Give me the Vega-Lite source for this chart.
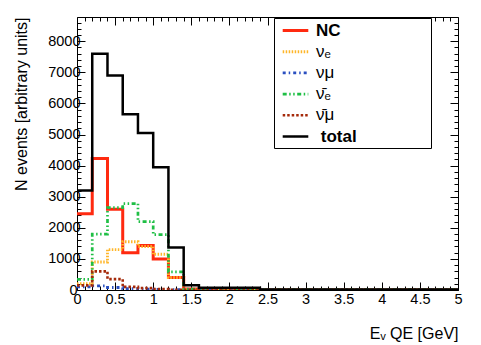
{
  "$schema": "https://vega.github.io/schema/vega-lite/v6.json",
  "width": 381,
  "height": 273,
  "autosize": "none",
  "padding": {"left": 77, "top": 17, "right": 23, "bottom": 55},
  "background": "white",
  "config": {
    "font": "Liberation Sans",
    "view": {"stroke": null},
    "axis": {"domainColor": "black", "tickColor": "black", "labelColor": "black", "titleColor": "black", "grid": false, "labelFont": "Liberation Sans", "titleFont": "Liberation Sans", "labelFontSize": 14.5, "titleFontSize": 16, "titleFontWeight": "normal", "domainWidth": 1, "tickWidth": 1}
  },
  "datasets": {
    "h": [
      {"s": "NC", "x": 0.0, "n": 2450}, {"s": "NC", "x": 0.2, "n": 4230}, {"s": "NC", "x": 0.4, "n": 2600}, {"s": "NC", "x": 0.6, "n": 1200}, {"s": "NC", "x": 0.8, "n": 1430}, {"s": "NC", "x": 1.0, "n": 1000}, {"s": "NC", "x": 1.2, "n": 400}, {"s": "NC", "x": 1.4, "n": 30}, {"s": "NC", "x": 1.6, "n": 15}, {"s": "NC", "x": 1.8, "n": 10}, {"s": "NC", "x": 2.0, "n": 8}, {"s": "NC", "x": 2.2, "n": 5}, {"s": "NC", "x": 2.4, "n": 3}, {"s": "NC", "x": 5.0, "n": 3},
      {"s": "nue", "x": 0.0, "n": 200}, {"s": "nue", "x": 0.2, "n": 900}, {"s": "nue", "x": 0.4, "n": 1300}, {"s": "nue", "x": 0.6, "n": 1550}, {"s": "nue", "x": 0.8, "n": 1400}, {"s": "nue", "x": 1.0, "n": 1150}, {"s": "nue", "x": 1.2, "n": 400}, {"s": "nue", "x": 1.4, "n": 20}, {"s": "nue", "x": 1.6, "n": 10}, {"s": "nue", "x": 1.8, "n": 6}, {"s": "nue", "x": 2.0, "n": 4}, {"s": "nue", "x": 2.2, "n": 3}, {"s": "nue", "x": 2.4, "n": 2}, {"s": "nue", "x": 5.0, "n": 2},
      {"s": "numu", "x": 0.0, "n": 100}, {"s": "numu", "x": 0.2, "n": 130}, {"s": "numu", "x": 0.4, "n": 80}, {"s": "numu", "x": 0.6, "n": 40}, {"s": "numu", "x": 0.8, "n": 30}, {"s": "numu", "x": 1.0, "n": 20}, {"s": "numu", "x": 1.2, "n": 10}, {"s": "numu", "x": 1.4, "n": 5}, {"s": "numu", "x": 1.6, "n": 3}, {"s": "numu", "x": 2.4, "n": 1}, {"s": "numu", "x": 5.0, "n": 1},
      {"s": "nuebar", "x": 0.0, "n": 340}, {"s": "nuebar", "x": 0.2, "n": 1800}, {"s": "nuebar", "x": 0.4, "n": 2650}, {"s": "nuebar", "x": 0.6, "n": 2780}, {"s": "nuebar", "x": 0.8, "n": 2200}, {"s": "nuebar", "x": 1.0, "n": 1780}, {"s": "nuebar", "x": 1.2, "n": 580}, {"s": "nuebar", "x": 1.4, "n": 30}, {"s": "nuebar", "x": 1.6, "n": 12}, {"s": "nuebar", "x": 1.8, "n": 8}, {"s": "nuebar", "x": 2.0, "n": 5}, {"s": "nuebar", "x": 2.4, "n": 2}, {"s": "nuebar", "x": 5.0, "n": 2},
      {"s": "numubar", "x": 0.0, "n": 150}, {"s": "numubar", "x": 0.2, "n": 600}, {"s": "numubar", "x": 0.4, "n": 350}, {"s": "numubar", "x": 0.6, "n": 100}, {"s": "numubar", "x": 0.8, "n": 60}, {"s": "numubar", "x": 1.0, "n": 30}, {"s": "numubar", "x": 1.2, "n": 10}, {"s": "numubar", "x": 1.4, "n": 5}, {"s": "numubar", "x": 1.6, "n": 3}, {"s": "numubar", "x": 2.4, "n": 1}, {"s": "numubar", "x": 5.0, "n": 1},
      {"s": "total", "x": 0.0, "n": 3200}, {"s": "total", "x": 0.2, "n": 7600}, {"s": "total", "x": 0.4, "n": 6900}, {"s": "total", "x": 0.6, "n": 5650}, {"s": "total", "x": 0.8, "n": 5050}, {"s": "total", "x": 1.0, "n": 3950}, {"s": "total", "x": 1.2, "n": 1370}, {"s": "total", "x": 1.4, "n": 150}, {"s": "total", "x": 1.6, "n": 70}, {"s": "total", "x": 2.4, "n": 20}, {"s": "total", "x": 5.0, "n": 20}
    ]
  },
  "data": {"name": "h"},
  "resolve": {"axis": {"x": "independent", "y": "independent"}},
  "layer": [
    {
      "mark": {"type": "line", "interpolate": "step-after", "clip": true},
      "encoding": {
        "x": {"field": "x", "type": "quantitative", "scale": {"domain": [0, 5], "nice": false, "zero": false},
          "axis": {"orient": "bottom", "title": "Eᵥ QE [GeV]", "titleAnchor": "end", "titlePadding": 16,
            "values": [0,0.1,0.2,0.3,0.4,0.5,0.6,0.7,0.8,0.9,1,1.1,1.2,1.3,1.4,1.5,1.6,1.7,1.8,1.9,2,2.1,2.2,2.3,2.4,2.5,2.6,2.7,2.8,2.9,3,3.1,3.2,3.3,3.4,3.5,3.6,3.7,3.8,3.9,4,4.1,4.2,4.3,4.4,4.5,4.6,4.7,4.8,4.9,5],
            "labelExpr": "abs(datum.value*2 - round(datum.value*2)) < 0.001 ? format(datum.value, '~g') : ''",
            "tickSize": {"condition": {"test": "abs(datum.value*2 - round(datum.value*2)) < 0.001", "value": -8}, "value": -4},
            "labelPadding": 10, "labelFlush": false, "labelOverlap": false}},
        "y": {"field": "n", "type": "quantitative", "scale": {"domain": [0, 8780], "nice": false},
          "axis": {"orient": "left", "title": "N events [arbitrary units]", "titleAnchor": "end", "titlePadding": 18,
            "values": [0,200,400,600,800,1000,1200,1400,1600,1800,2000,2200,2400,2600,2800,3000,3200,3400,3600,3800,4000,4200,4400,4600,4800,5000,5200,5400,5600,5800,6000,6200,6400,6600,6800,7000,7200,7400,7600,7800,8000,8200,8400,8600],
            "labelExpr": "datum.value % 1000 === 0 ? format(datum.value, 'd') : ''",
            "tickSize": {"condition": {"test": "datum.value % 1000 === 0", "value": -8}, "value": -4},
            "labelPadding": {"condition": {"test": "datum.value === 0", "value": 8}, "value": 5}, "labelOverlap": false}},
        "color": {"field": "s", "type": "nominal",
          "scale": {"domain": ["NC", "nue", "numu", "nuebar", "numubar", "total"], "range": ["#ff2a10", "#ffb629", "#2a4fc0", "#1fbf45", "#a52a0a", "#000000"]},
          "legend": {"orient": "none", "legendX": 197, "legendY": 1, "title": null, "symbolType": "M-1.6,0H1.6", "symbolSize": 256,
            "labelFontSize": 17, "labelFont": "Liberation Sans", "labelColor": "black",
            "strokeColor": "black", "fillColor": "white", "padding": 3, "rowPadding": 3.2, "symbolOffset": 9, "labelOffset": 11,
            "labelExpr": "datum.value === 'NC' ? 'NC' : datum.value === 'nue' ? 'νₑ' : datum.value === 'numu' ? 'νμ' : datum.value === 'nuebar' ? 'ν̄ₑ' : datum.value === 'numubar' ? 'ν̄μ' : '\u200b total\u00a0\u00a0\u00a0\u00a0\u00a0\u00a0\u00a0\u00a0\u00a0\u00a0\u00a0\u00a0\u00a0\u00a0\u00a0\u200b'",
            "encode": {"labels": {"update": {"fontWeight": {"signal": "datum.value === 'NC' || datum.value === 'total' ? 'bold' : 'normal'"}}}}}},
        "strokeDash": {"field": "s", "type": "nominal",
          "scale": {"domain": ["NC", "nue", "numu", "nuebar", "numubar", "total"], "range": [[1, 0], [1.5, 1.5], [3, 3, 1.5, 3], [4, 2.5, 1.5, 2.5, 1.5, 2.5], [2.5, 2], [1, 0]]},
          "legend": null},
        "strokeWidth": {"field": "s", "type": "nominal",
          "scale": {"domain": ["NC", "nue", "numu", "nuebar", "numubar", "total"], "range": [3, 2.5, 2.5, 3, 3, 3]},
          "legend": null}
      }
    },
    {
      "mark": {"type": "rule", "opacity": 0},
      "encoding": {
        "x": {"field": "x", "type": "quantitative",
          "axis": {"orient": "top", "title": null, "labels": false,
            "values": [0,0.1,0.2,0.3,0.4,0.5,0.6,0.7,0.8,0.9,1,1.1,1.2,1.3,1.4,1.5,1.6,1.7,1.8,1.9,2,2.1,2.2,2.3,2.4,2.5,2.6,2.7,2.8,2.9,3,3.1,3.2,3.3,3.4,3.5,3.6,3.7,3.8,3.9,4,4.1,4.2,4.3,4.4,4.5,4.6,4.7,4.8,4.9,5],
            "tickSize": {"condition": {"test": "abs(datum.value*2 - round(datum.value*2)) < 0.001", "value": -8}, "value": -4}}},
        "y": {"field": "n", "type": "quantitative",
          "axis": {"orient": "right", "title": null, "labels": false,
            "values": [0,200,400,600,800,1000,1200,1400,1600,1800,2000,2200,2400,2600,2800,3000,3200,3400,3600,3800,4000,4200,4400,4600,4800,5000,5200,5400,5600,5800,6000,6200,6400,6600,6800,7000,7200,7400,7600,7800,8000,8200,8400,8600],
            "tickSize": {"condition": {"test": "datum.value % 1000 === 0", "value": -8}, "value": -4}}}
      }
    }
  ]
}
